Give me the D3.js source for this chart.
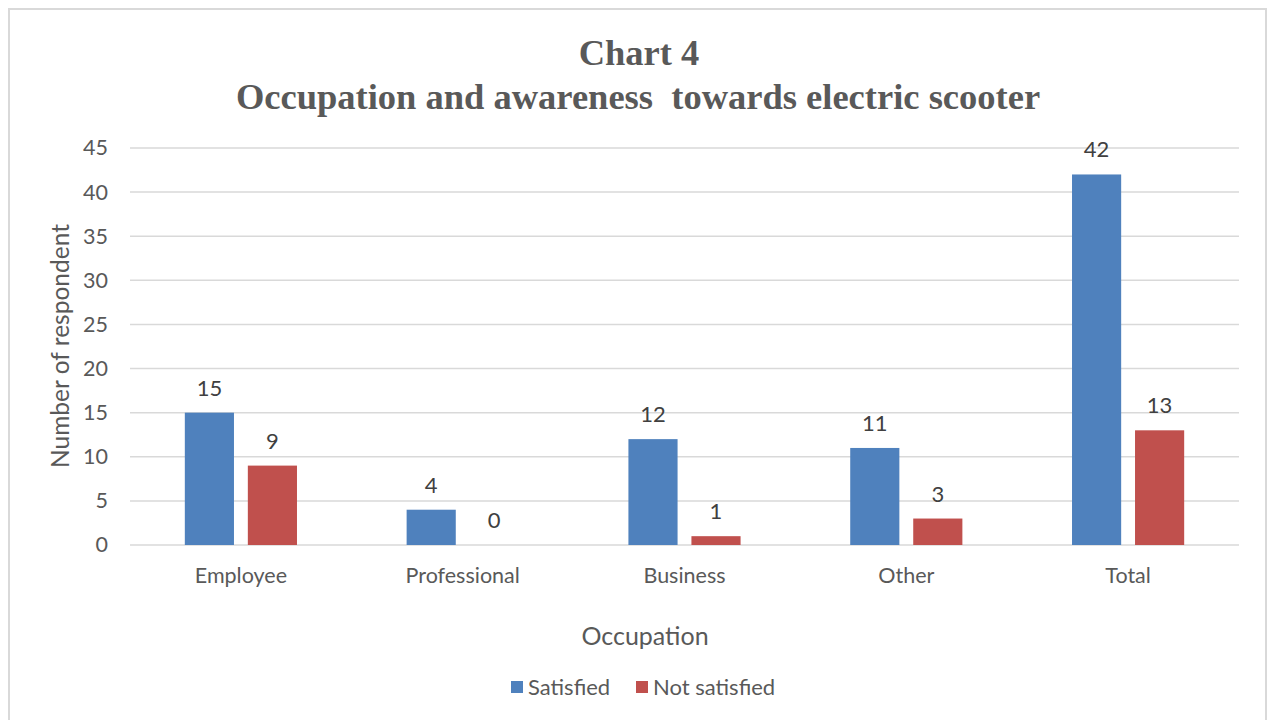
<!DOCTYPE html>
<html>
<head>
<meta charset="utf-8">
<script src="https://cdn.jsdelivr.net/npm/d3@7"></script>
<style>
  body { margin: 0; background: #fff; }
  svg { display: block; }
</style>
</head>
<body>
<div id="chart"></div>
<script>
// chart data
const occupations = ["Employee", "Professional", "Business", "Other", "Total"];
const satisfied = [15, 4, 12, 11, 42];
const notSatisfied = [9, 0, 1, 3, 13];
const seriesNames = ["Satisfied", "Not satisfied"];
const seriesColors = ["#4F81BD", "#C0504D"];
const yTicks = [0, 5, 10, 15, 20, 25, 30, 35, 40, 45];

const width = 1268, height = 720;
const margin = { top: 148, right: 29, bottom: 175, left: 130 };
const labelFont = "Lato, 'Open Sans', sans-serif";
const textColor = "#595959";

const svg = d3.select("#chart")
  .append("svg")
  .attr("width", width)
  .attr("height", height);

// outer frame
svg.append("rect")
  .attr("x", 9).attr("y", 9)
  .attr("width", 1257).attr("height", 730)
  .attr("fill", "#fff")
  .attr("stroke", "#d9d9d9")
  .attr("stroke-width", 2);

const x = d3.scaleBand()
  .domain(occupations)
  .range([margin.left, width - margin.right])
  .paddingInner(0)
  .paddingOuter(0);

const xs = d3.scaleBand()
  .domain(seriesNames)
  .range([0, x.bandwidth()])
  .paddingInner(0.22)
  .paddingOuter(0.87);

const y = d3.scaleLinear()
  .domain([0, 45])
  .range([height - margin.bottom, margin.top]);

// gridlines
svg.append("g")
  .selectAll("line")
  .data(yTicks)
  .join("line")
  .attr("x1", margin.left)
  .attr("x2", width - margin.right)
  .attr("y1", d => y(d))
  .attr("y2", d => y(d))
  .attr("stroke", "#d9d9d9")
  .attr("stroke-width", 1.5);

// y axis labels
const yAxis = g => g
  .attr("transform", `translate(${margin.left - 22}, 0)`)
  .call(d3.axisLeft(y).tickValues(yTicks).tickSize(0).tickPadding(0))
  .call(g => g.select(".domain").remove())
  .call(g => g.selectAll("text")
    .attr("font-family", labelFont)
    .attr("font-size", 21.5)
    .attr("fill", textColor));

svg.append("g").call(yAxis);

// x axis labels
const xAxis = g => g
  .attr("transform", `translate(0, ${height - margin.bottom + 23})`)
  .call(d3.axisBottom(x).tickSize(0).tickPadding(0))
  .call(g => g.select(".domain").remove())
  .call(g => g.selectAll("text")
    .attr("font-family", labelFont)
    .attr("font-size", 21.5)
    .attr("fill", textColor));

svg.append("g").call(xAxis);

const rows = occupations.map((o, i) => ({
  occ: o,
  vals: [satisfied[i], notSatisfied[i]]
}));

const group = svg.append("g")
  .selectAll("g")
  .data(rows)
  .join("g")
  .attr("transform", d => `translate(${x(d.occ)}, 0)`);

const bars = group.selectAll("g")
  .data(d => d.vals.map((v, j) => ({ name: seriesNames[j], v: v, c: seriesColors[j] })))
  .join("g");

bars.append("rect")
  .attr("x", d => xs(d.name))
  .attr("width", xs.bandwidth())
  .attr("y", d => y(d.v))
  .attr("height", d => y(0) - y(d.v))
  .attr("fill", d => d.c);

bars.append("text")
  .text(d => d.v)
  .attr("x", d => xs(d.name) + xs.bandwidth() / 2)
  .attr("y", d => y(d.v) - 17)
  .attr("text-anchor", "middle")
  .attr("font-family", labelFont)
  .attr("font-size", 22)
  .attr("fill", "#404040");

// titles
svg.append("text")
  .attr("x", 639).attr("y", 65)
  .attr("text-anchor", "middle")
  .attr("font-family", "'Liberation Serif', 'Times New Roman', serif")
  .attr("font-weight", "bold")
  .attr("font-size", 36.5)
  .attr("fill", textColor)
  .text("Chart 4");

svg.append("text")
  .attr("x", 638).attr("y", 109)
  .attr("text-anchor", "middle")
  .attr("font-family", "'Liberation Serif', 'Times New Roman', serif")
  .attr("font-weight", "bold")
  .attr("font-size", 36.5)
  .attr("fill", textColor)
  .attr("xml:space", "preserve")
  .text("Occupation and awareness  towards electric scooter");

// axis titles
svg.append("text")
  .attr("x", 645).attr("y", 645)
  .attr("text-anchor", "middle")
  .attr("font-family", labelFont)
  .attr("font-size", 25)
  .attr("fill", textColor)
  .text("Occupation");

svg.append("text")
  .attr("transform", "translate(69, 346) rotate(-90)")
  .attr("text-anchor", "middle")
  .attr("font-family", labelFont)
  .attr("font-size", 24.5)
  .attr("fill", textColor)
  .text("Number of respondent");

// legend
const legendX = [511, 636];
const legend = svg.append("g")
  .selectAll("g")
  .data(seriesNames)
  .join("g")
  .attr("transform", (d, i) => `translate(${legendX[i]}, 681)`);

legend.append("rect")
  .attr("width", 12).attr("height", 12)
  .attr("fill", (d, i) => seriesColors[i]);

legend.append("text")
  .attr("x", 17).attr("y", 14)
  .attr("font-family", labelFont)
  .attr("font-size", 22)
  .attr("fill", textColor)
  .text(d => d);
</script>
</body>
</html>
